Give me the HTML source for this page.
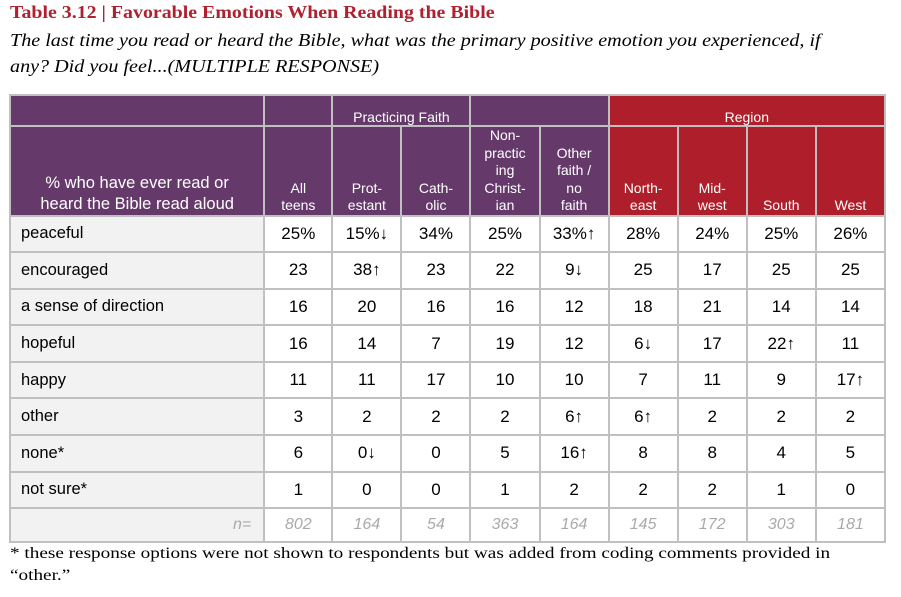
<!DOCTYPE html>
<html><head><meta charset="utf-8"><style>
body{margin:0;width:901px;height:597px;background:#fff;position:relative;overflow:hidden;font-family:"Liberation Sans",Arial,sans-serif}
.ln{position:absolute;left:10px;white-space:nowrap;transform-origin:0 0}
.t{top:2px;font:bold 18px "Liberation Serif",serif;color:#b0202e;transform:scaleX(1.105)}
.s{font:italic 17.5px "Liberation Serif",serif;color:#000;transform:scaleX(1.15)}
.f{font:16px "Liberation Serif",serif;color:#000;transform:scaleX(1.2)}
table{position:absolute;left:9px;top:94px;border-collapse:collapse;table-layout:fixed;width:877px}
td{border:2px solid #c0c0c0;padding:0;text-align:center;font-size:17px;color:#000}
tr.d td{height:34.6px;vertical-align:middle}
tr.d td.l{background:#f2f2f2;text-align:left;padding-left:10px;font-size:16.5px}
.p{background:#653a6b}.r{background:#ae1f2b}
tr.g td{height:29px;color:#fff;font-size:14px;vertical-align:bottom;padding-bottom:0}
tr.h td{height:87px;color:#fff;font-size:14px;line-height:17.5px;vertical-align:bottom}
tr.h td.l{font-size:16.5px;line-height:21px;text-align:center}
tr.n td{color:#aaa;font-style:italic;font-size:16px;height:32px}
tr.n td.l{text-align:right;padding-right:12px;padding-left:0}
</style></head><body>
<div class="ln t">Table 3.12 | Favorable Emotions When Reading the Bible</div>
<div class="ln s" style="top:30px">The last time you read or heard the Bible, what was the primary positive emotion you experienced, if</div>
<div class="ln s" style="top:56px">any? Did you feel...(MULTIPLE RESPONSE)</div>
<table>
<colgroup><col style="width:254px"><col style="width:68px"><col style="width:69px"><col style="width:69px"><col style="width:69px"><col style="width:69px"><col style="width:69px"><col style="width:69px"><col style="width:69px"><col style="width:69px"></colgroup>
<tr class="g"><td class="p"></td><td class="p"></td><td class="p" colspan="2">Practicing Faith</td><td class="p" colspan="2"></td><td class="r" colspan="4">Region</td></tr>
<tr class="h"><td class="p l">% who have ever read or<br>heard the Bible read aloud</td><td class="p">All<br>teens</td><td class="p">Prot-<br>estant</td><td class="p">Cath-<br>olic</td><td class="p">Non-<br>practic<br>ing<br>Christ-<br>ian</td><td class="p">Other<br>faith /<br>no<br>faith</td><td class="r">North-<br>east</td><td class="r">Mid-<br>west</td><td class="r">South</td><td class="r">West</td></tr>
<tr class="d" style="height:34px"><td class="l">peaceful</td><td>25%</td><td>15%↓</td><td>34%</td><td>25%</td><td>33%↑</td><td>28%</td><td>24%</td><td>25%</td><td>26%</td></tr>
<tr class="d"><td class="l">encouraged</td><td>23</td><td>38↑</td><td>23</td><td>22</td><td>9↓</td><td>25</td><td>17</td><td>25</td><td>25</td></tr>
<tr class="d"><td class="l">a sense of direction</td><td>16</td><td>20</td><td>16</td><td>16</td><td>12</td><td>18</td><td>21</td><td>14</td><td>14</td></tr>
<tr class="d"><td class="l">hopeful</td><td>16</td><td>14</td><td>7</td><td>19</td><td>12</td><td>6↓</td><td>17</td><td>22↑</td><td>11</td></tr>
<tr class="d"><td class="l">happy</td><td>11</td><td>11</td><td>17</td><td>10</td><td>10</td><td>7</td><td>11</td><td>9</td><td>17↑</td></tr>
<tr class="d"><td class="l">other</td><td>3</td><td>2</td><td>2</td><td>2</td><td>6↑</td><td>6↑</td><td>2</td><td>2</td><td>2</td></tr>
<tr class="d"><td class="l">none*</td><td>6</td><td>0↓</td><td>0</td><td>5</td><td>16↑</td><td>8</td><td>8</td><td>4</td><td>5</td></tr>
<tr class="d"><td class="l">not sure*</td><td>1</td><td>0</td><td>0</td><td>1</td><td>2</td><td>2</td><td>2</td><td>1</td><td>0</td></tr>
<tr class="n"><td class="l" style="background:#f2f2f2">n=</td><td>802</td><td>164</td><td>54</td><td>363</td><td>164</td><td>145</td><td>172</td><td>303</td><td>181</td></tr>
</table>
<div class="ln f" style="top:545px">* these response options were not shown to respondents but was added from coding comments provided in</div>
<div class="ln f" style="top:567px">“other.”</div>
</body></html>
